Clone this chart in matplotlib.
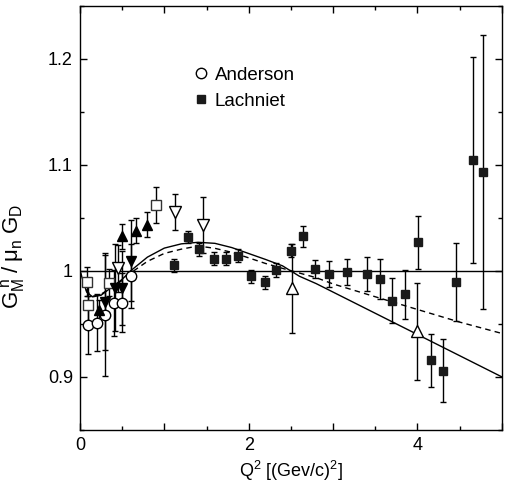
import numpy as np
import matplotlib
matplotlib.use("Agg")
import matplotlib.pyplot as plt
from matplotlib.lines import Line2D
from matplotlib.ticker import MultipleLocator, FixedFormatter, FixedLocator

plt.rcParams['font.family'] = ['Liberation Sans', 'DejaVu Sans']
plt.rcParams['mathtext.fontset'] = 'custom'
plt.rcParams['mathtext.rm'] = 'Liberation Sans'
plt.rcParams['mathtext.it'] = 'Liberation Sans:italic'
plt.rcParams['mathtext.default'] = 'regular'

# Lachniet (filled squares)
lach_q2 = [1.118, 1.282, 1.412, 1.586, 1.728, 1.873, 2.027, 2.193, 2.323, 2.505, 2.643, 2.781,
           2.953, 3.163, 3.405, 3.554, 3.696, 3.854, 4.004, 4.162, 4.304, 4.462, 4.654, 4.773]
lach_g = [1.0054, 1.0319, 1.0205, 1.0114, 1.0114, 1.0145, 0.995, 0.9893, 1.001, 1.019, 1.0328, 1.0016,
          0.9972, 0.9991, 0.9972, 0.9924, 0.9719, 0.978, 1.0272, 0.9155, 0.906, 0.9896, 1.1047, 1.0932]
lach_err = [0.0063, 0.0058, 0.006, 0.006, 0.006, 0.006, 0.006, 0.006, 0.0063, 0.0062, 0.010, 0.0085,
            0.012, 0.0123, 0.016, 0.019, 0.021, 0.023, 0.025, 0.025, 0.030, 0.037, 0.097, 0.129]

# Anderson (open circles)
and_q2 = [0.10, 0.20, 0.30, 0.40, 0.50, 0.60]
and_g = [0.949, 0.951, 0.958, 0.970, 0.970, 0.995]
and_err = [0.027, 0.027, 0.057, 0.031, 0.028, 0.030]

# other data sets
osq_q2 = [0.08, 0.10, 0.35, 0.905]
osq_g = [0.990, 0.968, 0.989, 1.0626]
osq_err = [0.014, 0.020, 0.013, 0.017]

fup_q2 = [0.23, 0.50, 0.66, 0.79]
fup_g = [0.963, 1.0325, 1.038, 1.0436]
fup_err = [0.010, 0.012, 0.0117, 0.012]

fdn_q2 = [0.30, 0.41, 0.50, 0.60]
fdn_g = [0.971, 0.984, 0.984, 1.0098]
fdn_err = [0.046, 0.041, 0.035, 0.038]

odn_q2 = [0.45, 1.13, 1.46]
odn_g = [1.0025, 1.056, 1.0436]
odn_err = [0.022, 0.017, 0.0265]

oup_q2 = [2.51, 4.00]
oup_g = [0.9836, 0.943]
oup_err = [0.042, 0.046]

# fit curves
fit_q2 = [0.0, 0.04, 0.08, 0.15, 0.25, 0.4, 0.5, 0.6, 0.8, 1.0, 1.2, 1.4, 1.6, 1.8,
          2.0, 2.2, 2.4, 2.6, 2.8, 3.0, 3.5, 4.0, 4.5, 5.0]
fit_solid = [1.0, 0.990, 0.980, 0.9755, 0.977, 0.986, 0.992, 1.0, 1.013, 1.0215, 1.0255, 1.027,
             1.026, 1.022, 1.0164, 1.0108, 1.0048, 0.995, 0.988, 0.980, 0.960, 0.940, 0.920, 0.900]
fit_dash = [1.0, 0.990, 0.981, 0.976, 0.978, 0.9855, 0.991, 0.998, 1.009, 1.0165, 1.0205, 1.0235,
            1.0213, 1.0175, 1.0123, 1.007, 1.0024, 0.998, 0.9936, 0.9877, 0.9756, 0.9636, 0.9517, 0.941]

fig = plt.figure(figsize=(5.09, 4.93), dpi=100)
ax = fig.add_axes([0.157, 0.128, 0.829, 0.860])

ax.axhline(1.0, color='black', lw=1.0)
ax.plot(fit_q2, fit_solid, color='black', lw=1.0)
ax.plot(fit_q2, fit_dash, color='black', lw=1.0, ls=(0, (4, 3)))

ebkw = dict(ls='none', ecolor='black', elinewidth=1.0, capsize=2.2, capthick=1.0)
ax.errorbar(and_q2, and_g, yerr=and_err, marker='o', ms=7.5, mfc='white', mec='black', mew=1.0, **ebkw)
ax.errorbar(osq_q2, osq_g, yerr=osq_err, marker='s', ms=7.5, mfc='white', mec='0.2', mew=1.0, **ebkw)
ax.errorbar(fup_q2, fup_g, yerr=fup_err, marker='^', ms=6.5, mfc='black', mec='black', **ebkw)
ax.errorbar(fdn_q2, fdn_g, yerr=fdn_err, marker='v', ms=6.5, mfc='black', mec='black', **ebkw)
ax.errorbar(odn_q2, odn_g, yerr=odn_err, marker='v', ms=8.5, mfc='white', mec='black', mew=1.0, **ebkw)
ax.errorbar(oup_q2, oup_g, yerr=oup_err, marker='^', ms=8.5, mfc='white', mec='black', mew=1.0, **ebkw)
ax.errorbar(lach_q2, lach_g, yerr=lach_err, marker='s', ms=5.5, mfc='#1a1a1a', mec='#1a1a1a', **ebkw)

ax.set_xlim(0, 5)
ax.set_ylim(0.85, 1.25)
ax.xaxis.set_major_locator(FixedLocator([0, 1, 2, 3, 4, 5]))
ax.xaxis.set_major_formatter(FixedFormatter(['0', '', '2', '', '4', '']))
ax.xaxis.set_minor_locator(MultipleLocator(0.5))
ax.yaxis.set_major_locator(FixedLocator([0.9, 1.0, 1.1, 1.2]))
ax.yaxis.set_major_formatter(FixedFormatter(['0.9', '1', '1.1', '1.2']))
ax.yaxis.set_minor_locator(MultipleLocator(0.05))
ax.tick_params(which='both', direction='in', top=True, right=True, labelsize=13, pad=5, width=1.0)
ax.tick_params(which='major', length=5)
ax.tick_params(which='minor', length=3)
for s in ax.spines.values():
    s.set_linewidth(1.0)

ax.set_xlabel(r'Q$^2$ [(Gev/c)$^2$]', fontsize=13, labelpad=4)
ax.set_ylabel(r'$G_M^{\ n}\;/\;\mu_n\;G_D$', fontsize=16)
ax.yaxis.set_label_coords(-0.125, 0.41)

handles = [Line2D([], [], ls='none', marker='o', ms=7.5, mfc='white', mec='black', mew=1.0),
           Line2D([], [], ls='none', marker='s', ms=6, mfc='#1a1a1a', mec='#1a1a1a')]
ax.legend(handles, ['Anderson', 'Lachniet'], loc='upper left', bbox_to_anchor=(0.255, 0.875),
          frameon=False, fontsize=13.5, handlelength=0.6, handletextpad=0.45,
          labelspacing=0.5, borderaxespad=0)

fig.savefig('out.png', dpi=100)
